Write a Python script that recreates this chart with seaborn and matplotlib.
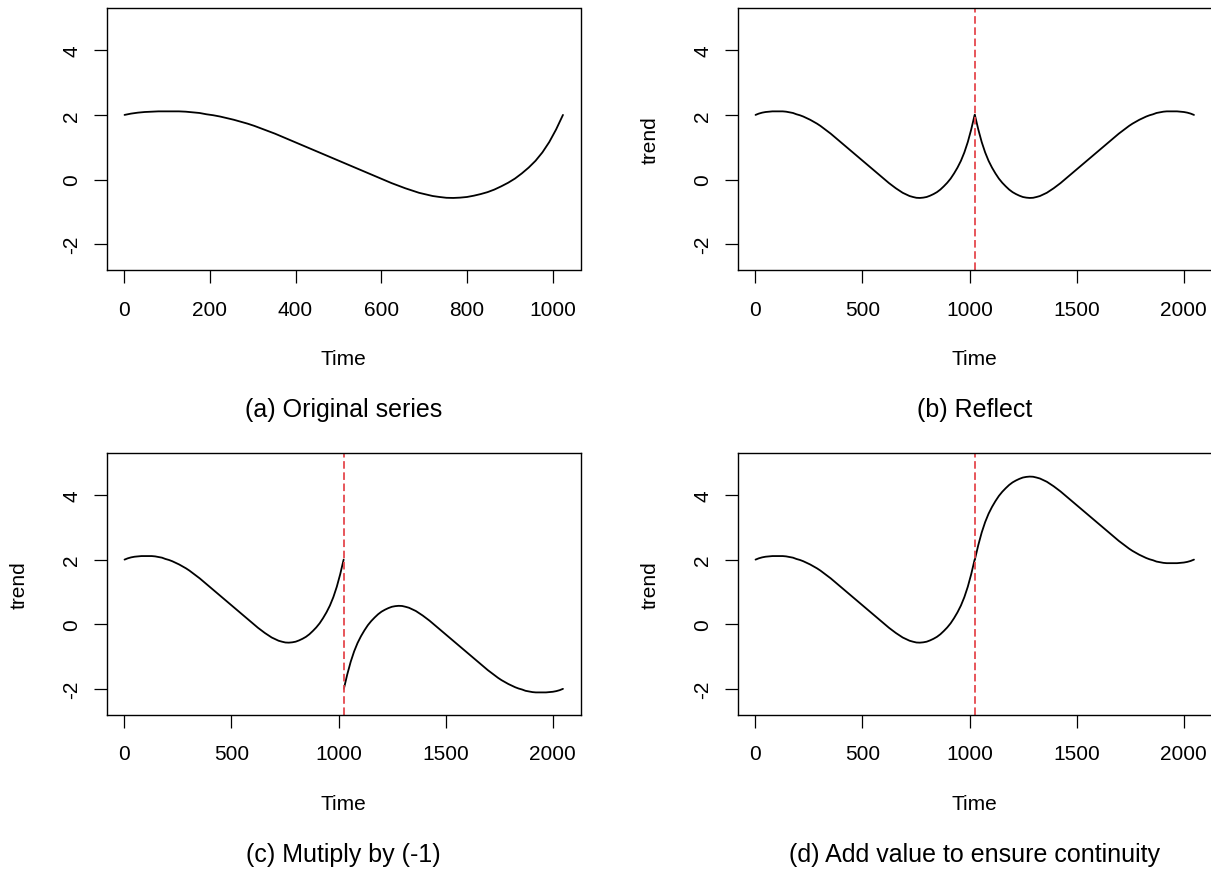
import numpy as np
import pandas as pd
import seaborn as sns
import matplotlib
matplotlib.use("Agg")
import matplotlib.pyplot as plt

# ---- data: the original series (a) ----
time_pts = [1, 16, 32, 48, 64, 80, 96, 112, 128, 144, 160, 176, 192, 208,
            224, 240, 256, 272, 288, 304, 320, 336, 352, 368, 384, 400, 416,
            432, 448, 464, 480, 496, 512, 528, 544, 560, 576, 592, 608, 624,
            640, 656, 672, 688, 704, 720, 736, 752, 768, 784, 800, 816, 832,
            848, 864, 880, 896, 912, 928, 944, 960, 976, 992, 1008, 1024]
trend_vals = [2.00, 2.04, 2.07, 2.09, 2.10, 2.11, 2.11, 2.11, 2.11, 2.10,
              2.08, 2.06, 2.02, 1.99, 1.95, 1.90, 1.85, 1.79, 1.73, 1.66,
              1.58, 1.50, 1.42, 1.33, 1.24, 1.15, 1.06, 0.97, 0.88, 0.79,
              0.70, 0.61, 0.52, 0.43, 0.34, 0.25, 0.16, 0.07, -0.02, -0.11,
              -0.19, -0.27, -0.34, -0.41, -0.46, -0.51, -0.54, -0.565, -0.57,
              -0.56, -0.54, -0.50, -0.45, -0.39, -0.31, -0.21, -0.10, 0.03,
              0.19, 0.37, 0.58, 0.84, 1.16, 1.55, 2.00]
n_len = 1024
boundary = 1024.5
panel_titles = ["(a) Original series", "(b) Reflect", "(c) Mutiply by (-1)",
                "(d) Add value to ensure continuity"]
xticks_a = [0, 200, 400, 600, 800, 1000]
xticks_ext = [0, 500, 1000, 1500, 2000]
yticks = [-2, 0, 2, 4]

# ---- build the four series (operations shown in the chart) ----
t = np.array(time_pts, dtype=float)
v = np.array(trend_vals, dtype=float)
t_ref = (2 * n_len + 1) - t[::-1]
v_ref = v[::-1]
shift = 2 * v[-1]

rows = []
def add(panel, seg, tt, vv):
    for a, b in zip(tt, vv):
        rows.append({"panel": panel, "segment": seg, "time": a, "value": b})

add("a", 0, t, v)
add("b", 0, t, v); add("b", 1, t_ref, v_ref)
add("c", 0, t, v); add("c", 1, t_ref, -v_ref)
add("d", 0, t, v); add("d", 1, t_ref, -v_ref + shift)
df = pd.DataFrame(rows)

# ---- style ----
sns.set_style("ticks", {"text.color": "black", "axes.labelcolor": "black",
                        "xtick.color": "black", "ytick.color": "black",
                        "axes.edgecolor": "black"})
plt.rcParams["font.family"] = ["Liberation Sans", "DejaVu Sans"]
plt.rcParams["axes.linewidth"] = 1.0
plt.rcParams["text.color"] = "black"

W, H = 1211, 870
fig = plt.figure(figsize=(W / 100, H / 100), dpi=100)

ax_w = 473.5 / W
ax_h = 261.7 / H
lefts = [107 / W, 738 / W]
bottoms = [1 - 271 / H, 1 - 715.7 / H]

layout = [("a", 0, 0), ("b", 1, 0), ("c", 0, 1), ("d", 1, 1)]
for idx, (p, col, row) in enumerate(layout):
    ax = fig.add_axes([lefts[col], bottoms[row], ax_w, ax_h])
    sub = df[df["panel"] == p]
    sns.lineplot(data=sub, x="time", y="value", units="segment",
                 estimator=None, color="black", lw=1.3, ax=ax)
    if p == "a":
        xmax = n_len
        ax.set_xticks(xticks_a)
    else:
        xmax = 2 * n_len
        ax.set_xticks(xticks_ext)
        ax.axvline(boundary, color="#E5484D", lw=1.3,
                   linestyle=(0, (4.2, 2.0)))
    pad = (xmax - 1) * 0.04
    ax.set_xlim(1 - pad, xmax + pad)
    ax.set_ylim(-2.5 - 0.3, 5 + 0.3)
    ax.set_yticks(yticks)
    ax.set_yticklabels([str(y) for y in yticks])
    ax.set_xticklabels([str(x) for x in ax.get_xticks().astype(int)])
    for s in ax.spines.values():
        s.set_visible(True)
        s.set_linewidth(1.0)
        s.set_color("black")
    ax.tick_params(axis="both", direction="out", length=9.4, width=0.9,
                   color="black", labelsize=15, labelcolor="black")
    ax.tick_params(axis="x", pad=12)
    ax.tick_params(axis="y", pad=9, labelrotation=90)
    for lab in ax.get_yticklabels():
        lab.set_va("center")
    ax.set_xlabel("Time", fontsize=15, color="black")
    ax.xaxis.set_label_coords(0.5, -89 / 261.7)
    ax.xaxis.label.set_va("center")
    if p == "a":
        ax.set_ylabel("")
    else:
        ax.set_ylabel("trend", fontsize=15, color="black")
        ax.yaxis.set_label_coords(-88 / 473.5, 0.5)
        ax.yaxis.label.set_va("center")
    ax.text(0.5, -139 / 261.7, panel_titles[idx], transform=ax.transAxes,
            ha="center", va="center", fontsize=18, color="black")

fig.savefig("out.png", dpi=100)
